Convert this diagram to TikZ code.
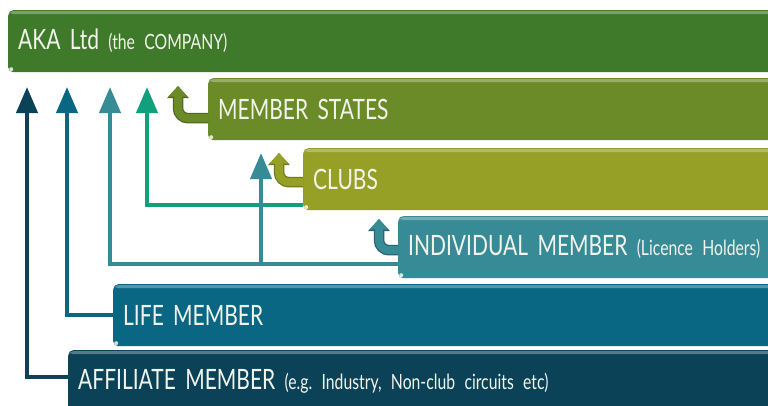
\documentclass[tikz,border=0pt]{standalone}
\usepackage{fontspec}
\setmainfont[FakeStretch=0.75, WordSpace=0.55]{Lato}
\usetikzlibrary{arrows.meta, positioning}

\definecolor{akagreen}{HTML}{3F7A2B}
\definecolor{stategreen}{HTML}{6B8A28}
\definecolor{clubolive}{HTML}{96A027}
\definecolor{indivteal}{HTML}{378B96}
\definecolor{lifeblue}{HTML}{0A6784}
\definecolor{affilblue}{HTML}{0B4257}
\definecolor{clubline}{HTML}{10A07C}
\definecolor{barwhite}{HTML}{F2F4EC}

\newcommand{\aside}[1]{{\fontsize{21}{23}\selectfont #1}}

\begin{document}
\frenchspacing
\begin{tikzpicture}[x=1pt, y=-1pt,
    bar/.style={anchor=north west, rounded corners=5pt, minimum height=62pt,
      text width=780pt, align=left, inner xsep=10pt, text=barwhite,
      font=\fontsize{28}{30}\selectfont,
      path picture={
        \fill[white, opacity=0.3] ([yshift=-1pt]path picture bounding box.north west)
          rectangle ([yshift=-4pt]path picture bounding box.north east);
        \fill[white, opacity=0.8] ([shift={(3pt,3pt)}]path picture bounding box.south west) circle (2pt);
      }},
    link/.style={line width=4pt, -{Triangle[width=21pt, length=26pt]}},
    uedge/.style={line width=10.5pt, rounded corners=10pt, -{Triangle[width=21pt, length=12pt]}},
    uturn/.style={line width=8pt, rounded corners=10pt, -{Triangle[width=18pt, length=10.5pt]}}]

    \useasboundingbox (0,0) rectangle (768,405);
    \clip (0,0) rectangle (768,405);

    % The company and the member bars
    \node[bar, fill=akagreen] (aka) at (8,10) {AKA Ltd \aside{(the COMPANY)}};
    \node[bar, fill=stategreen] (states) at (208,78) {MEMBER STATES};
    \node[bar, fill=clubolive] (clubs) at (303,148) {CLUBS};
    \node[bar, fill=indivteal] (indiv) at (398,216) {INDIVIDUAL MEMBER \aside{(Licence Holders)}};
    \node[bar, fill=lifeblue] (life) at (113,284) {LIFE MEMBER};
    \node[bar, fill=affilblue] (affil) at (68,350) {AFFILIATE MEMBER \aside{(e.g. Industry, Non-club circuits etc)}};

    % Arrow tips under the company bar
    \coordinate (t1) at (27,87);
    \coordinate (t2) at (67,87);
    \coordinate (t3) at (110,87);
    \coordinate (t4) at (147,87);

    % Long connectors up to the company
    \draw[link, affilblue] ([yshift=4pt]affil.west) -| (t1);
    \draw[link, lifeblue] (life.west) -| (t2);
    \draw[link, indivteal] ([yshift=-17pt]indiv.west) -| (t3);
    \draw[link, clubline] ([yshift=-26pt]clubs.west) -| (t4);

    % Branch of the individual members up to the member states
    \coordinate (j3) at (261,264);
    \coordinate (t3b) at (261,153);
    \draw[link, indivteal] (j3) -- (t3b);

    % Short bent arrows, each bar to the one above
    \coordinate (u1) at (178,86);
    \coordinate (u2) at (279,153);
    \coordinate (u3) at (379,219);
    \draw[uedge, stategreen!75!black] ([yshift=-9pt]states.west) -| (u1);
    \draw[uturn, stategreen] ([yshift=-9pt]states.west) -| (u1);
    \draw[uedge, clubolive!75!black] ([yshift=-3pt]clubs.west) -| (u2);
    \draw[uturn, clubolive] ([yshift=-3pt]clubs.west) -| (u2);
    \draw[uedge, indivteal!70!black] ([yshift=-3pt]indiv.west) -| (u3);
    \draw[uturn, indivteal] ([yshift=-3pt]indiv.west) -| (u3);

\end{tikzpicture}
\end{document}
